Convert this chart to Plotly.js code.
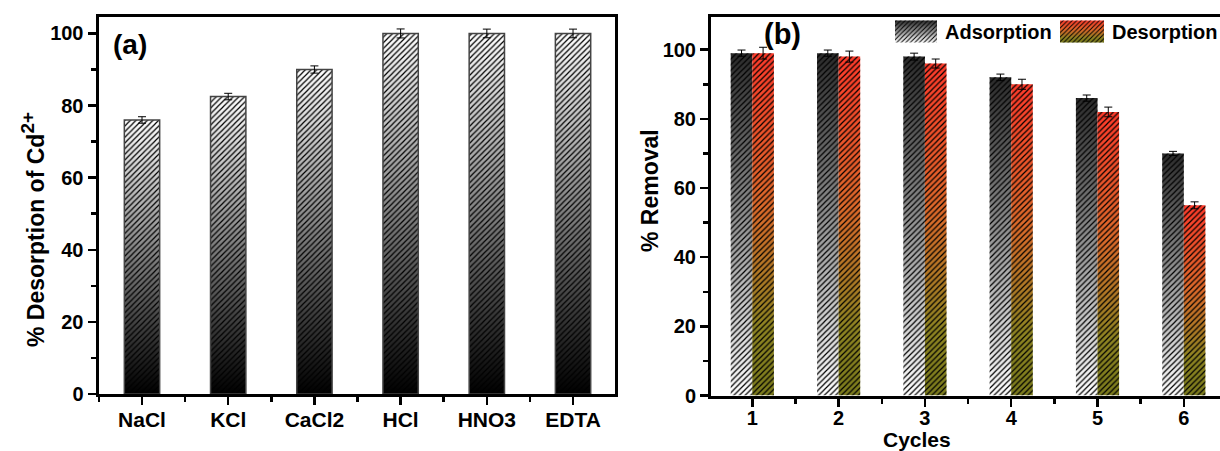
<!DOCTYPE html>
<html><head><meta charset="utf-8">
<script src="https://cdn.plot.ly/plotly-3.0.1.min.js"></script>
<style>html,body{margin:0;padding:0;overflow:hidden;background:#fff}#chart{width:1220px;height:451px}</style>
</head><body><div id="chart"></div>
<script>
// ---- data ----
const eluents = ['NaCl', 'KCl', 'CaCl2', 'HCl', 'HNO3', 'EDTA'];
const desorptionPct = [76, 82.5, 90, 100, 100, 100];
const desorptionPctErr = [0.9, 0.9, 1.0, 1.25, 1.2, 1.2];
const cycles = [1, 2, 3, 4, 5, 6];
const cycleLabels = ['1', '2', '3', '4', '5', '6'];
const adsorption = [99, 99, 98, 92, 86, 70];
const adsorptionErr = [0.9, 0.9, 1.0, 0.95, 0.9, 0.6];
const desorption = [99, 98, 96, 90, 82, 55];
const desorptionErr = [1.7, 1.6, 1.3, 1.45, 1.4, 1.0];
const yTicks = [0, 20, 40, 60, 80, 100];

const W = 1220, H = 451;
const FAM = '"Liberation Sans", Arial, sans-serif';
const bold = (size) => ({family: FAM, size: size, weight: 'bold', color: '#000'});
const pat = {shape: '/', fgcolor: '#000', size: 4, solidity: 0.3};
const err = (arr) => ({type: 'data', array: arr, visible: true, color: '#000', thickness: 1, width: 4});

const traces = [
  {type: 'bar', uid: 'a', x: eluents.map((_, i) => i), y: desorptionPct, width: 0.41,
   xaxis: 'x', yaxis: 'y', showlegend: false,
   marker: {color: '#888', line: {color: '#444', width: 1.5}, pattern: pat},
   error_y: err(desorptionPctErr)},
  {type: 'bar', uid: 'ads', name: 'Adsorption', x: cycles, y: adsorption,
   xaxis: 'x2', yaxis: 'y2',
   marker: {color: '#777', line: {width: 0}, pattern: pat},
   error_y: err(adsorptionErr)},
  {type: 'bar', uid: 'des', name: 'Desorption', x: cycles, y: desorption,
   xaxis: 'x2', yaxis: 'y2',
   marker: {color: '#d66', line: {width: 0}, pattern: pat},
   error_y: err(desorptionErr)}
];

const axBase = {showline: true, linecolor: '#000', linewidth: 3, mirror: true,
  ticks: 'outside', tickcolor: '#000', tickwidth: 2.5, ticklen: 8,
  tickfont: bold(20), showgrid: false, zeroline: false, automargin: false, fixedrange: true};
const minorX = {tick0: 0.5, dtick: 1, ticks: 'outside', ticklen: 5, tickwidth: 2.5, tickcolor: '#000'};
const minorY = {dtick: 10, ticks: 'outside', ticklen: 5, tickwidth: 2.5, tickcolor: '#000'};

const layout = {
  width: W, height: H,
  margin: {l: 0, r: 0, t: 0, b: 0},
  paper_bgcolor: '#fff', plot_bgcolor: '#fff',
  barmode: 'group', bargap: 0.5, bargroupgap: 0,
  showlegend: true,
  legend: {orientation: 'h', x: 888 / W, xanchor: 'left', y: 1 - 16 / H, yanchor: 'top',
           font: bold(20), bgcolor: 'rgba(0,0,0,0)', itemwidth: 40, traceorder: 'normal'},
  xaxis: Object.assign({}, axBase, {domain: [98.5 / W, 614.5 / W], range: [-0.5046, 5.481],
    tickmode: 'array', tickvals: eluents.map((_, i) => i), ticktext: eluents, minor: minorX, anchor: 'y',
    tickfont: bold(21), ticklabelstandoff: -3}),
  yaxis: Object.assign({}, axBase, {domain: [1 - 394 / H, 1 - 16.5 / H], range: [0, 104.7],
    tickmode: 'array', tickvals: yTicks, minor: minorY, anchor: 'x'}),
  xaxis2: Object.assign({}, axBase, {domain: [711 / W, 1], range: [0.5214, 6.4195],
    tickmode: 'array', tickvals: cycles, ticktext: cycleLabels, minor: minorX, anchor: 'y2',
    ticklabelstandoff: -6}),
  yaxis2: Object.assign({}, axBase, {domain: [1 - 395.5 / H, 1 - 16.5 / H], range: [0, 109.6],
    tickmode: 'array', tickvals: yTicks, minor: minorY, anchor: 'x2'}),
  annotations: [
    {text: '(a)', xref: 'paper', yref: 'paper', x: 130 / W, y: 1 - 45 / H, showarrow: false, font: bold(28), xanchor: 'center', yanchor: 'middle'},
    {text: '(b)', xref: 'paper', yref: 'paper', x: 782 / W, y: 1 - 34 / H, showarrow: false, font: bold(29), xanchor: 'center', yanchor: 'middle'},
    {text: '% Desorption of Cd<sup><span style="font-size:19px">2+</span></sup>', xref: 'paper', yref: 'paper', x: 33 / W, y: 1 - 230 / H, textangle: -90, showarrow: false, font: bold(23), xanchor: 'center', yanchor: 'middle'},
    {text: '% Removal', xref: 'paper', yref: 'paper', x: 650 / W, y: 1 - 191 / H, textangle: -90, showarrow: false, font: bold(23), xanchor: 'center', yanchor: 'middle'},
    {text: 'Cycles', xref: 'paper', yref: 'paper', x: 917 / W, y: 1 - 439.5 / H, showarrow: false, font: bold(21), xanchor: 'center', yanchor: 'middle'}
  ]
};

const gradients = {
  a: [[0, '#ffffff'], [1, '#000000']],
  ads: [[0, '#2a2a2a'], [1, '#ffffff']],
  des: [[0, '#ff3a2a'], [0.45, '#dc6a2a'], [0.8, '#8e8422'], [1, '#7a7a1c']]
};
// where each legend label should start (left edge) and its vertical centre
const legendTextX = {ads: 945, des: 1112};
const legendTextY = 31.5;

function decorate(gd) {
  const NS = 'http://www.w3.org/2000/svg';
  const svg = gd.querySelector('.main-svg');
  const defs = svg.querySelector('defs') || svg.insertBefore(document.createElementNS(NS, 'defs'), svg.firstChild);
  Object.keys(gradients).forEach(k => {
    const lg = document.createElementNS(NS, 'linearGradient');
    lg.setAttribute('id', 'grad-' + k);
    lg.setAttribute('x1', '0'); lg.setAttribute('y1', '0');
    lg.setAttribute('x2', '0'); lg.setAttribute('y2', '1');
    gradients[k].forEach(([o, c]) => {
      const s = document.createElementNS(NS, 'stop');
      s.setAttribute('offset', o); s.setAttribute('stop-color', c);
      lg.appendChild(s);
    });
    defs.appendChild(lg);
  });
  const underlay = (p, uid) => {
    const c = p.cloneNode(true);
    c.style.fill = 'url(#grad-' + uid + ')';
    c.style.fillOpacity = 1;
    c.style.stroke = 'none';
    p.parentNode.insertBefore(c, p);
  };
  gd.querySelectorAll('.barlayer .trace').forEach(tr => {
    const cd = tr.__data__;
    const uid = cd && cd[0] && cd[0].trace && cd[0].trace.uid;
    if (!gradients[uid]) return;
    tr.querySelectorAll('.point path').forEach(p => underlay(p, uid));
  });
  const uidOf = (item) => { const cd = item.__data__; return cd && cd[0] && cd[0].trace && cd[0].trace.uid; };
  const textPos = (item) => {
    const text = item.querySelector('text.legendtext');
    const tb = text.getBBox(); const tm = text.getScreenCTM();
    return {x: tm.e + tb.x, y: tm.f + tb.y + tb.height / 2};
  };
  const items = Array.from(gd.querySelectorAll('.legend .traces'));
  const legendG = gd.querySelector('.legend');
  if (items.length && legendG) {
    const p0 = textPos(items[0]);
    const dx = legendTextX[uidOf(items[0])] - p0.x, dy = legendTextY - p0.y;
    legendG.setAttribute('transform', (legendG.getAttribute('transform') || '') + ' translate(' + dx + ',' + dy + ')');
  }
  items.forEach((item, i) => {
    const uid = uidOf(item);
    if (!gradients[uid]) return;
    if (i > 0) {
      const p = textPos(item);
      const ddx = legendTextX[uid] - p.x;
      item.setAttribute('transform', (item.getAttribute('transform') || '') + ' translate(' + ddx + ',0)');
    }
    const path = item.querySelector('path.legendbar') || item.querySelector('.legendpoints path');
    if (!path) return;
    const p = textPos(item);
    path.removeAttribute('transform');
    const pm = path.parentNode.getScreenCTM();
    const lx = p.x - pm.e, ly = p.y - pm.f;
    const d = 'M' + (lx - 52) + ',' + (ly - 11) + 'H' + (lx - 8) + 'V' + (ly + 11) + 'H' + (lx - 52) + 'Z';
    path.setAttribute('d', d);
    underlay(path, uid);
  });
}

Plotly.newPlot('chart', traces, layout, {staticPlot: true, displayModeBar: false}).then(decorate);
</script>
</body></html>
